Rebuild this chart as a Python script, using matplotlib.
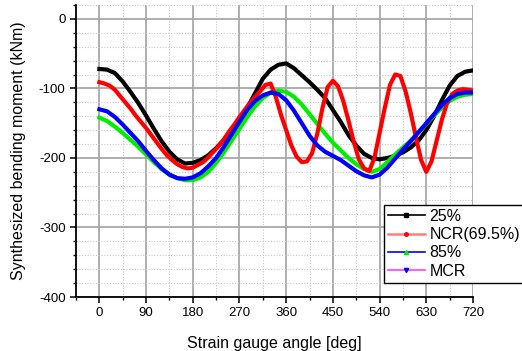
import numpy as np
import matplotlib
matplotlib.use("Agg")
import matplotlib.pyplot as plt
from matplotlib.lines import Line2D
from matplotlib.ticker import MultipleLocator

plt.rcParams['font.family'] = ['Liberation Sans', 'DejaVu Sans']
plt.rcParams['axes.unicode_minus'] = False

# angles [deg]
angle15 = list(range(0, 721, 15))
angle10 = list(range(0, 721, 10))

# 25% load (black)
m25 = [-72, -73, -78, -90, -105, -121, -139, -158, -176, -191, -202, -208, -207,
       -203, -196, -186, -174, -160, -146, -128, -107, -86, -73, -66, -64, -71,
       -81, -91, -102, -114, -131, -148, -167, -182, -194, -200, -202, -200, -197,
       -192, -185, -175, -160, -140, -117, -96, -82, -76, -74]

# NCR(69.5%) (red), sampled every 10 deg
ncr = [-91, -93, -96, -102, -111, -120, -129, -139, -148, -157, -167, -177, -187,
       -196, -203, -209, -213, -215, -214, -210, -206, -199, -191, -183, -173,
       -162, -152, -141, -131, -121, -112, -104, -95, -93, -112, -138, -160, -182,
       -198, -206, -205, -193, -165, -128, -98, -89, -97, -118, -146, -176, -202,
       -215, -219, -200, -164, -128, -95, -80, -82, -104, -135, -170, -203, -220,
       -205, -175, -145, -121, -108, -103, -101, -102, -103]

# 85% (green)
m85 = [-142, -147, -155, -164, -174, -184, -195, -206, -216, -224, -229, -232, -232,
       -228, -220, -207, -192, -175, -158, -141, -126, -114, -106, -103, -105, -112,
       -123, -137, -151, -165, -178, -189, -200, -209, -216, -220, -216, -206, -195,
       -185, -175, -163, -151, -139, -128, -118, -112, -109, -108]

# MCR (blue)
mcr = [-130, -133, -141, -152, -164, -176, -190, -203, -215, -224, -229, -230, -228,
       -222, -212, -200, -184, -166, -148, -131, -118, -110, -106, -108, -117, -132,
       -150, -168, -182, -191, -197, -203, -211, -219, -225, -228, -224, -214, -201,
       -188, -176, -163, -150, -137, -124, -114, -108, -106, -106]

labels = ['25%', 'NCR(69.5%)', '85%', 'MCR']

fig = plt.figure(figsize=(5.22, 3.51), dpi=100)
ax = fig.add_axes([76/522, 1-297/351, (473-76)/522, (297-5)/351])

lw = 3.0
ax.plot(angle15, m25, color='black', lw=lw, zorder=3, solid_joinstyle='round')
ax.plot(angle15, m85, color='#00ee00', lw=lw, zorder=4, solid_joinstyle='round')
ax.plot(angle10, ncr, color='#ff0000', lw=lw, zorder=5, solid_joinstyle='round')
ax.plot(angle15, mcr, color='#0000ff', lw=lw, zorder=6, solid_joinstyle='round')

ax.set_xlim(-45, 720)
ax.set_ylim(-400, 20)
ax.xaxis.set_major_locator(MultipleLocator(90))
ax.xaxis.set_minor_locator(MultipleLocator(45))
ax.yaxis.set_major_locator(MultipleLocator(100))
ax.yaxis.set_minor_locator(MultipleLocator(20))

ax.grid(which='major', color='#a8a8a8', lw=1.3, ls='-')
ax.grid(which='minor', color='#c8c8c8', lw=0.8, ls=(0, (1, 1.5)))
ax.set_axisbelow(True)

for s in ['top', 'right']:
    ax.spines[s].set_visible(False)
for s in ['left', 'bottom']:
    ax.spines[s].set_linewidth(1.3)
ax.tick_params(which='major', direction='out', length=4, width=1.1, labelsize=9.5)
ax.tick_params(which='minor', direction='out', length=2.5, width=1.0)

ax.set_xlabel('Strain gauge angle [deg]', fontsize=11.5, labelpad=12)
ax.set_ylabel('Synthesized bending moment (kNm)', fontsize=11.5, labelpad=9)

handles = [
    Line2D([], [], color='black', lw=1.2, marker='s', ms=2.5, mfc='black', mec='black'),
    Line2D([], [], color='#ff7f7f', lw=1.8, marker='o', ms=2.5, mfc='red', mec='red'),
    Line2D([], [], color='#0000ff', lw=1.2, marker='^', ms=3, mfc='#00ee00', mec='#00ee00'),
    Line2D([], [], color='#ff40ff', lw=1.2, marker='v', ms=3, mfc='blue', mec='blue'),
]
leg = fig.legend(handles, labels, loc='upper left',
                 bbox_to_anchor=(384/522, 1-205/351), bbox_transform=fig.transFigure,
                 fontsize=11.5, frameon=True, fancybox=False, framealpha=1,
                 edgecolor='black', borderpad=0.25, labelspacing=0.2,
                 handlelength=2.3, handletextpad=0.3, borderaxespad=0)
leg.get_frame().set_linewidth(1.0)

fig.savefig('out.png', dpi=100)
